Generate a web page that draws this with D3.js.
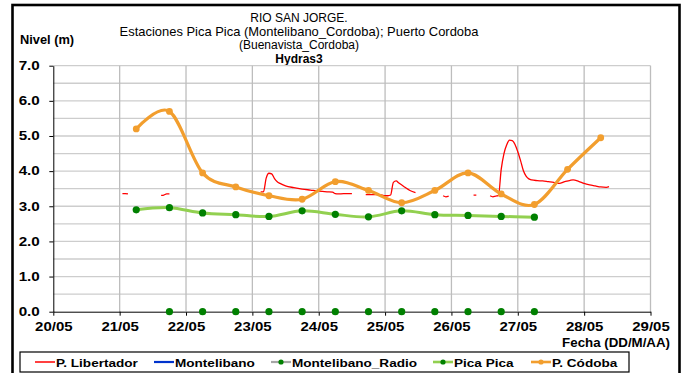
<!DOCTYPE html>
<html>
<head>
<meta charset="utf-8">
<script src="https://cdn.jsdelivr.net/npm/d3@7/dist/d3.min.js"></script>
<style>
  body { margin: 0; background: #fff; }
  svg { display: block; font-family: "Liberation Sans", Arial, sans-serif; }
</style>
</head>
<body>
<svg id="chart" width="684" height="373"></svg>
<script>
// ---- data -------------------------------------------------------------
const titleLines = ["RIO SAN JORGE.", "Estaciones Pica Pica (Montelibano_Cordoba); Puerto Cordoba", "(Buenavista_Cordoba)"];
const subTitle = "Hydras3";
const yAxisTitle = "Nivel (m)";
const xAxisTitle = "Fecha (DD/M/AA)";

const dayTicks = ["20/05", "21/05", "22/05", "23/05", "24/05", "25/05", "26/05", "27/05", "28/05", "29/05"];
const levelTicks = [0, 1, 2, 3, 4, 5, 6, 7];

const seriesNames = ["P. Libertador", "Montelibano", "Montelibano_Radio", "Pica Pica", "P. Códoba"];

// P. Córdoba, twice a day
const cordobaTimes = ["21/05 06:00", "21/05 18:00", "22/05 06:00", "22/05 18:00", "23/05 06:00",
  "23/05 18:00", "24/05 06:00", "24/05 18:00", "25/05 06:00", "25/05 18:00", "26/05 06:00",
  "26/05 18:00", "27/05 06:00", "27/05 18:00", "28/05 06:00"];
const cordobaValues = [5.2, 5.7, 3.95, 3.55, 3.3, 3.2, 3.7, 3.45, 3.1, 3.45, 3.95, 3.35, 3.05, 4.05, 4.95];

// Pica Pica, twice a day
const picaTimes = ["21/05 06:00", "21/05 18:00", "22/05 06:00", "22/05 18:00", "23/05 06:00",
  "23/05 18:00", "24/05 06:00", "24/05 18:00", "25/05 06:00", "25/05 18:00", "26/05 06:00",
  "26/05 18:00", "27/05 06:00"];
const picaValues = [2.9, 2.96, 2.81, 2.76, 2.71, 2.87, 2.77, 2.7, 2.87, 2.76, 2.74, 2.71, 2.69];

// Montelibano radio reports
const radioTimes = ["21/05 18:00", "22/05 06:00", "22/05 18:00", "23/05 06:00", "23/05 18:00",
  "24/05 06:00", "24/05 18:00", "25/05 06:00", "25/05 18:00", "26/05 06:00", "26/05 18:00", "27/05 06:00"];
const radioValues = [0, 0, 0, 0, 0, 0, 0, 0, 0, 0, 0, 0];

// Montelibano automatic station: no readings in this period
const montelibanoTimes = [];
const montelibanoValues = [];

// P. Libertador, hourly with gaps (null = no reading)
const libertadorTimes = [
  "21/05 01:00", "21/05 02:00", "21/05 03:00", "21/05 08:00",
  "21/05 15:00", "21/05 16:00", "21/05 17:00", "21/05 18:00", "22/05 00:00",
  "23/05 03:00", "23/05 04:00", "23/05 05:00", "23/05 06:00", "23/05 07:00", "23/05 08:00",
  "23/05 09:00", "23/05 10:00", "23/05 12:00", "23/05 15:00", "23/05 18:00", "23/05 21:00",
  "24/05 00:00", "24/05 03:00", "24/05 05:00", "24/05 06:00", "24/05 07:00", "24/05 09:00",
  "24/05 12:00", "24/05 14:00",
  "24/05 17:00", "24/05 20:00", "24/05 22:00", "25/05 00:00", "25/05 01:00", "25/05 02:00",
  "25/05 03:00", "25/05 04:00", "25/05 05:00", "25/05 07:00", "25/05 09:00", "25/05 11:00",
  "25/05 15:00",
  "25/05 21:00", "25/05 22:00", "25/05 23:00", "26/05 03:00",
  "26/05 08:00", "26/05 09:00", "26/05 11:00",
  "26/05 14:00", "26/05 15:00", "26/05 16:00", "26/05 17:00", "26/05 18:00", "26/05 19:00",
  "26/05 20:00", "26/05 21:00", "26/05 22:00", "26/05 23:00", "27/05 00:00", "27/05 01:00",
  "27/05 02:00", "27/05 03:00", "27/05 04:00", "27/05 05:00", "27/05 07:00", "27/05 09:00",
  "27/05 11:00", "27/05 13:00", "27/05 15:00", "27/05 17:00", "27/05 19:00", "27/05 20:00",
  "27/05 22:00", "28/05 00:00", "28/05 02:00", "28/05 04:00", "28/05 06:00", "28/05 08:00",
  "28/05 09:00"];
const libertadorValues = [
  3.36, 3.36, 3.35, null,
  3.31, 3.32, 3.35, 3.35, null,
  3.41, 3.41, 3.80, 3.94, 3.92, 3.79,
  3.70, 3.65, 3.58, 3.53, 3.49, 3.46,
  3.43, 3.41, 3.40, 3.36, 3.35, 3.36,
  3.36, null,
  3.33, 3.33, 3.33, 3.30, 3.30, 3.32,
  3.68, 3.72, 3.66, 3.55, 3.45, 3.39,
  null,
  3.30, 3.27, 3.29, null,
  3.32, 3.32, null,
  3.30, 3.27, 3.29, 3.30, 4.05, 4.50,
  4.75, 4.88, 4.87, 4.76, 4.55, 4.30,
  4.02, 3.86, 3.78, 3.75, 3.73, 3.72,
  3.70, 3.68, 3.65, 3.70, 3.74, 3.75,
  3.71, 3.65, 3.61, 3.58, 3.55, 3.54,
  3.56];

// ---- layout -----------------------------------------------------------
const parseTime = d3.timeParse("%d/%m %H:%M");
const parseDay = d3.timeParse("%d/%m");
const plot = { left: 53.3, right: 650.5, top: 65.7, bottom: 311.7 };

const svg = d3.select("#chart");

const x = d3.scaleTime()
  .domain([parseDay(dayTicks[0]), parseDay(dayTicks[dayTicks.length - 1])])
  .range([plot.left, plot.right]);
const y = d3.scaleLinear().domain([0, 7]).range([plot.bottom, plot.top]);

const colors = {
  libertador: "#ff0000",
  montelibano: "#0033cc",
  radio: "#a6a6a6",
  picaLine: "#92d050",
  picaMarker: "#008000",
  cordoba: "#f29e2e"
};

const zip = (times, values) => times.map((t, i) => ({ t: parseTime(t), v: values[i] }));

// outer frame
svg.append("rect")
  .attr("x", 12.5).attr("y", 5).attr("width", 667).attr("height", 380)
  .attr("fill", "none").attr("stroke", "#000").attr("stroke-width", 2.6);

// titles (the long station line is set slightly wider)
const titleStretch = [1, 1.08, 1];
const titles = svg.append("g").attr("text-anchor", "middle").attr("fill", "#000");
titleLines.forEach((line, i) => {
  titles.append("text")
    .attr("transform", `translate(299,${22 + i * 13.5}) scale(${titleStretch[i]},1)`)
    .attr("font-size", 12)
    .text(line);
});
titles.append("text")
  .attr("x", 299).attr("y", 62.5)
  .attr("font-size", 12).attr("font-weight", "bold")
  .text(subTitle);

svg.append("text")
  .attr("transform", "translate(20,44) scale(1.07,1)")
  .attr("font-size", 12).attr("font-weight", "bold")
  .text(yAxisTitle);

// grid
const grid = svg.append("g");
grid.selectAll("line.h")
  .data(d3.range(1, 15).map(k => k * 0.5))
  .join("line")
  .attr("x1", plot.left).attr("x2", plot.right)
  .attr("y1", d => y(d)).attr("y2", d => y(d))
  .attr("stroke", "#cdcdcd").attr("stroke-width", 1.3);
grid.selectAll("line.v")
  .data(dayTicks.slice(1))
  .join("line")
  .attr("x1", d => x(parseDay(d))).attr("x2", d => x(parseDay(d)))
  .attr("y1", plot.top).attr("y2", plot.bottom)
  .attr("stroke", "#bdbdbd").attr("stroke-width", 1.3);

// axes
const yAxis = svg.append("g")
  .attr("transform", `translate(${plot.left},0)`)
  .call(d3.axisLeft(y).tickValues(levelTicks).tickFormat(d3.format(".1f")).tickSize(4).tickSizeOuter(0));
yAxis.select(".domain").attr("stroke", "#000");
yAxis.selectAll("text")
  .attr("font-family", null).attr("font-size", 12).attr("font-weight", "bold").attr("fill", "#000")
  .attr("x", -13.5 / 1.27)
  .attr("transform", "scale(1.27,1)");

const xAxis = svg.append("g")
  .attr("transform", `translate(0,${plot.bottom})`)
  .call(d3.axisBottom(x)
    .tickValues(dayTicks.map(d => parseDay(d)))
    .tickFormat(d3.timeFormat("%d/%m"))
    .tickSize(4).tickPadding(6.5).tickSizeOuter(0));
xAxis.select(".domain").attr("stroke", "#000");
xAxis.selectAll("text")
  .attr("font-family", null).attr("font-size", 12).attr("font-weight", "bold").attr("fill", "#000")
  .attr("transform", "scale(1.25,1)");

svg.append("text")
  .attr("transform", "translate(670,346.5) scale(1.11,1)")
  .attr("text-anchor", "end")
  .attr("font-size", 12).attr("font-weight", "bold")
  .text(xAxisTitle);

// series
const smooth = d3.line().x(d => x(d.t)).y(d => y(d.v)).curve(d3.curveCatmullRom.alpha(0));
const hourly = d3.line()
  .defined(d => d.v !== null)
  .x(d => x(d.t)).y(d => y(d.v))
  .curve(d3.curveMonotoneX);

const marks = svg.append("g");

// P. Libertador
marks.append("path")
  .datum(zip(libertadorTimes, libertadorValues))
  .attr("d", hourly)
  .attr("fill", "none").attr("stroke", colors.libertador).attr("stroke-width", 1.3);

// Montelibano
marks.append("path")
  .datum(zip(montelibanoTimes, montelibanoValues))
  .attr("d", hourly)
  .attr("fill", "none").attr("stroke", colors.montelibano).attr("stroke-width", 2);

// Montelibano_Radio
const radio = zip(radioTimes, radioValues);
marks.append("path")
  .datum(radio).attr("d", smooth)
  .attr("fill", "none").attr("stroke", colors.radio).attr("stroke-width", 1);
marks.selectAll("circle.radio")
  .data(radio).join("circle")
  .attr("cx", d => x(d.t)).attr("cy", d => y(d.v)).attr("r", 3.6)
  .attr("fill", colors.picaMarker);

// Pica Pica
const pica = zip(picaTimes, picaValues);
marks.append("path")
  .datum(pica).attr("d", smooth)
  .attr("fill", "none").attr("stroke", colors.picaLine).attr("stroke-width", 3);
marks.selectAll("circle.pica")
  .data(pica).join("circle")
  .attr("cx", d => x(d.t)).attr("cy", d => y(d.v)).attr("r", 3.6)
  .attr("fill", colors.picaMarker);

// P. Córdoba
const cordoba = zip(cordobaTimes, cordobaValues);
marks.append("path")
  .datum(cordoba).attr("d", smooth)
  .attr("fill", "none").attr("stroke", colors.cordoba).attr("stroke-width", 3.2);
marks.selectAll("circle.cordoba")
  .data(cordoba).join("circle")
  .attr("cx", d => x(d.t)).attr("cy", d => y(d.v)).attr("r", 3.4)
  .attr("fill", colors.cordoba);

// legend
const legend = svg.append("g");
legend.append("rect")
  .attr("x", 20).attr("y", 352).attr("width", 609).attr("height", 20)
  .attr("fill", "#fff").attr("stroke", "#000").attr("stroke-width", 1.2);

const legendItems = [
  { name: seriesNames[0], x: 35, line: colors.libertador, width: 1.5, marker: null },
  { name: seriesNames[1], x: 154, line: colors.montelibano, width: 2.2, marker: null },
  { name: seriesNames[2], x: 271, line: colors.radio, width: 2.2, marker: colors.picaMarker },
  { name: seriesNames[3], x: 433, line: colors.picaLine, width: 2.6, marker: colors.picaMarker },
  { name: seriesNames[4], x: 531, line: colors.cordoba, width: 2.6, marker: colors.cordoba }
];
const ly = 362;
legendItems.forEach(item => {
  legend.append("line")
    .attr("x1", item.x).attr("x2", item.x + 20)
    .attr("y1", ly).attr("y2", ly)
    .attr("stroke", item.line).attr("stroke-width", item.width);
  if (item.marker) {
    legend.append("circle")
      .attr("cx", item.x + 10).attr("cy", ly).attr("r", 2.6)
      .attr("fill", item.marker);
  }
  legend.append("text")
    .attr("transform", `translate(${item.x + 21},${ly + 4.5}) scale(1.18,1)`)
    .attr("font-size", 11.5).attr("font-weight", "bold")
    .text(item.name);
});
</script>
</body>
</html>
